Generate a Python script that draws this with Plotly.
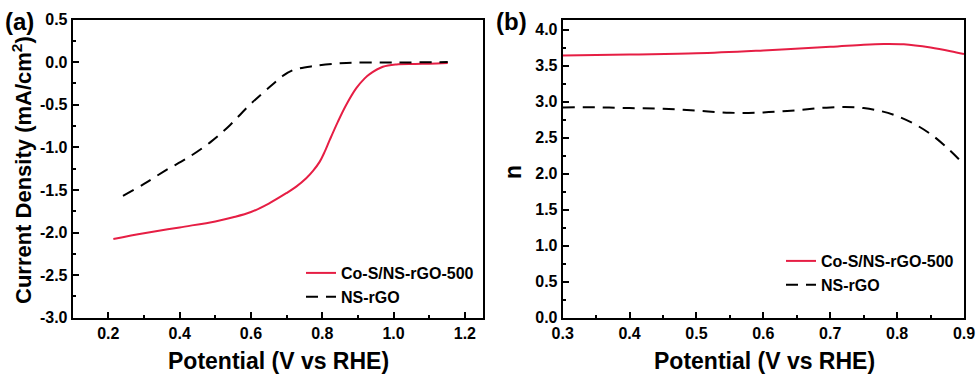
import plotly.graph_objects as go

# ---- Panel (a): LSV curves ----
a_red_x = [0.214, 0.30, 0.40, 0.50, 0.55, 0.60, 0.65, 0.699, 0.727, 0.755, 0.774, 0.793, 0.807, 0.821, 0.844, 0.867, 0.895, 0.919, 0.933, 0.970, 1.008, 1.06, 1.10, 1.152]
a_red_y = [-2.077, -2.01, -1.94, -1.87, -1.822, -1.76, -1.66, -1.539, -1.461, -1.363, -1.277, -1.168, -1.051, -0.914, -0.699, -0.504, -0.309, -0.191, -0.141, -0.055, -0.027, -0.022, -0.018, -0.01]
a_blk_x = [0.241, 0.30, 0.363, 0.424, 0.489, 0.541, 0.597, 0.653, 0.690, 0.718, 0.774, 0.868, 1.00, 1.152]
a_blk_y = [-1.57, -1.43, -1.265, -1.12, -0.93, -0.74, -0.50, -0.29, -0.16, -0.094, -0.047, -0.01, -0.005, 0.0]

# ---- Panel (b): electron transfer number ----
b_red_x = [0.30, 0.40, 0.50, 0.60, 0.70, 0.75, 0.78, 0.81, 0.85, 0.88, 0.90]
b_red_y = [3.64, 3.655, 3.67, 3.71, 3.76, 3.79, 3.80, 3.795, 3.75, 3.70, 3.66]
b_blk_x = [0.30, 0.35, 0.40, 0.45, 0.50, 0.55, 0.60, 0.65, 0.70, 0.75, 0.80, 0.85, 0.90]
b_blk_y = [2.92, 2.92, 2.91, 2.90, 2.875, 2.845, 2.85, 2.88, 2.92, 2.91, 2.80, 2.55, 2.13]

a_ytick_vals = [0.5, 0.0, -0.5, -1.0, -1.5, -2.0, -2.5, -3.0]
a_ytick_text = ["0.5", "0.0", "-0.5", "-1.0", "-1.5", "-2.0", "-2.5", "-3.0"]

names = ["Co-S/NS-rGO-500", "NS-rGO"]
RED = "#e61e44"
FONT = "Liberation Sans"

fig = go.Figure()
fig.add_trace(go.Scatter(x=a_red_x, y=a_red_y, mode="lines", name=names[0],
                         line=dict(color=RED, width=2, shape="spline", smoothing=1.0),
                         xaxis="x", yaxis="y", legend="legend"))
fig.add_trace(go.Scatter(x=a_blk_x, y=a_blk_y, mode="lines", name=names[1],
                         line=dict(color="black", width=2, dash="12px,8px", shape="spline", smoothing=1.0),
                         xaxis="x", yaxis="y", legend="legend"))
fig.add_trace(go.Scatter(x=b_red_x, y=b_red_y, mode="lines", name=names[0],
                         line=dict(color=RED, width=2, shape="spline"),
                         xaxis="x2", yaxis="y2", legend="legend2"))
fig.add_trace(go.Scatter(x=b_blk_x, y=b_blk_y, mode="lines", name=names[1],
                         line=dict(color="black", width=2, dash="12px,8px", shape="spline"),
                         xaxis="x2", yaxis="y2", legend="legend2"))

W, H = 980, 378
def px(v): return v / W
def py(v): return 1 - v / H

tickfont = dict(family=FONT, size=16, color="black", weight="bold")
common = dict(showline=True, linecolor="black", linewidth=2, mirror=True,
              ticks="inside", ticklen=6, tickwidth=2, tickcolor="black",
              showgrid=False, zeroline=False, tickfont=tickfont, automargin=False)

legfont = dict(family=FONT, size=16, color="black", weight="bold")

fig.update_layout(
    width=W, height=H, margin=dict(l=0, r=0, t=0, b=0),
    paper_bgcolor="white", plot_bgcolor="white",
    xaxis=dict(domain=[px(72.7), px(482.7)], range=[0.1, 1.25], dtick=0.2, tickformat=".1f",
               minor=dict(ticks="inside", ticklen=3, dtick=0.1, tickcolor="black", tickwidth=2),
               anchor="y", **common),
    yaxis=dict(domain=[py(317.7), py(19.5)], range=[-3.0, 0.5],
               tickvals=a_ytick_vals, ticktext=a_ytick_text,
               minor=dict(ticks="inside", ticklen=3, dtick=0.25, tickcolor="black", tickwidth=2),
               anchor="x", **common),
    xaxis2=dict(domain=[px(562.7), px(964)], range=[0.3, 0.9], dtick=0.1, tickformat=".1f",
                minor=dict(ticks="inside", ticklen=3, dtick=0.05, tickcolor="black", tickwidth=2),
                anchor="y2", **common),
    yaxis2=dict(domain=[py(317.7), py(19.5)], range=[0, 4.14], dtick=0.5, tickformat=".1f",
                minor=dict(ticks="inside", ticklen=3, dtick=0.25, tickcolor="black", tickwidth=2),
                anchor="x2", **common),
    legend=dict(x=px(301), y=py(256), xanchor="left", yanchor="top", bgcolor="rgba(0,0,0,0)",
                font=legfont, itemwidth=30, tracegroupgap=0),
    legend2=dict(x=px(781), y=py(244), xanchor="left", yanchor="top", bgcolor="rgba(0,0,0,0)",
                 font=legfont, itemwidth=30, tracegroupgap=0),
    showlegend=True,
)

title_font = dict(family=FONT, size=23, color="black", weight="bold")
fig.add_annotation(x=px(278), y=py(361), xref="paper", yref="paper", text="Potential (V vs RHE)",
                   showarrow=False, font=title_font, xanchor="center", yanchor="middle")
fig.add_annotation(x=px(764), y=py(361), xref="paper", yref="paper", text="Potential (V vs RHE)",
                   showarrow=False, font=title_font, xanchor="center", yanchor="middle")
fig.add_annotation(x=px(22), y=py(170), xref="paper", yref="paper",
                   text="Current Density (mA/cm<sup>2</sup>)", textangle=-90,
                   showarrow=False, font=dict(family=FONT, size=22, color="black", weight="bold"),
                   xanchor="center", yanchor="middle")
fig.add_annotation(x=px(513), y=py(172), xref="paper", yref="paper", text="n", textangle=-90,
                   showarrow=False, font=title_font, xanchor="center", yanchor="middle")
fig.add_annotation(x=px(19), y=py(21), xref="paper", yref="paper", text="(a)",
                   showarrow=False, font=dict(family=FONT, size=24, color="black", weight="bold"),
                   xanchor="center", yanchor="middle")
fig.add_annotation(x=px(511), y=py(21), xref="paper", yref="paper", text="(b)",
                   showarrow=False, font=dict(family=FONT, size=24, color="black", weight="bold"),
                   xanchor="center", yanchor="middle")

fig.write_html("out.html", config={"displayModeBar": False},
               post_script="document.body.style.margin='0';document.body.style.overflow='hidden';")
